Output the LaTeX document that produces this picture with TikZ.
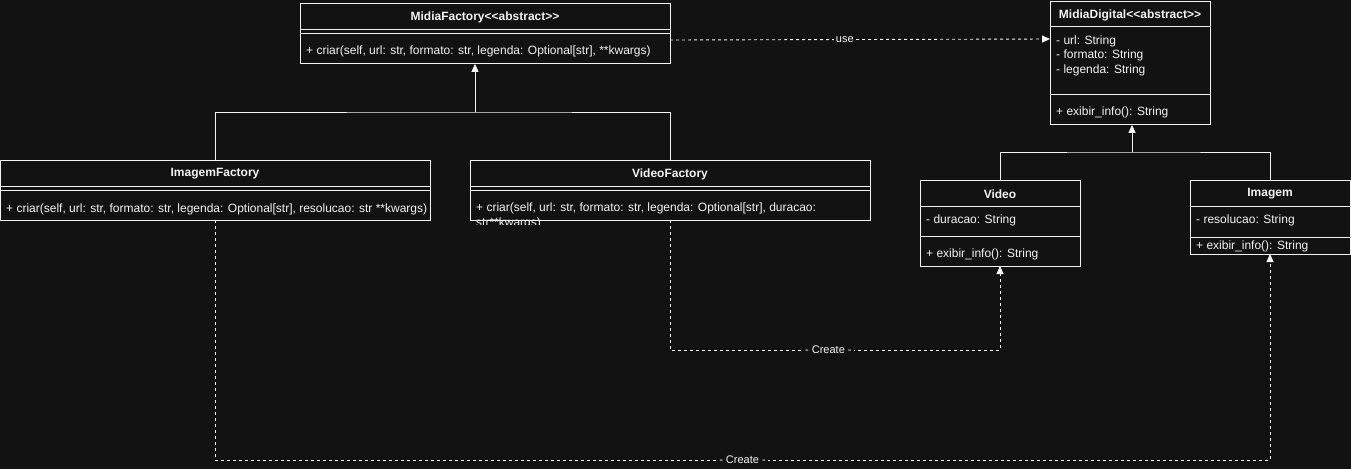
\documentclass[tikz,border=0pt]{standalone}
\usepackage{fontspec}
\setmainfont{Liberation Sans}
\usetikzlibrary{arrows.meta}
\definecolor{bg}{HTML}{121212}
\definecolor{fg}{HTML}{F4F4F4}
\newcommand{\lt}{<\kern0pt<}
\newcommand{\gt}{>\kern0pt>}
\tikzset{
  cls/.style={draw=fg, line width=0.9pt, fill=bg, anchor=north west, inner sep=0pt},
  ttl/.style={text=fg, font=\fontsize{12}{14}\selectfont\bfseries, inner sep=0pt},
  mem/.style={text=fg, font=\fontsize{12}{14}\selectfont, inner sep=0pt, anchor=west},
  sep/.style={draw=fg, line width=0.9pt},
  gen/.style={draw=fg, line width=0.9pt, -{Triangle[width=7pt,length=8pt]}},
  tree/.style={draw=fg, line width=0.9pt},
  dep/.style={draw=fg, line width=0.9pt, dash pattern=on 3pt off 3pt, -{Triangle[width=7pt,length=8pt]}},
  lbl/.style={text=fg, fill=bg, font=\fontsize{11}{12}\selectfont, inner xsep=2pt, inner ysep=1pt},
}
\begin{document}
\begin{tikzpicture}[x=1pt,y=-1pt]
\fill[bg] (0,0) rectangle (1351,469);
\useasboundingbox (0,0) rectangle (1351,469);

% MidiaFactory
\node[cls, minimum width=370pt, minimum height=60pt] (mf) at (300,3) {};
\draw[sep] (300,29) -- (670,29);
\draw[sep] (300,33) -- (670,33);
\node[ttl] (mft) at (485,17) {MidiaFactory\lt abstract\gt};
\node[mem] (mfm) at (306,51) {+ criar(self, url: str, formato: str, legenda: Optional[str], **kwargs)};

% MidiaDigital
\node[cls, minimum width=160pt, minimum height=123pt] (md) at (1050,1) {};
\draw[sep] (1050,26) -- (1210,26);
\draw[sep] (1050,94) -- (1210,94);
\node[ttl] (mdt) at (1130,15) {MidiaDigital\lt abstract\gt};
\node[mem] (mda1) at (1056,41) {- url: String};
\node[mem] (mda2) at (1056,55) {- formato: String};
\node[mem] (mda3) at (1056,70) {- legenda: String};
\node[mem] (mdm) at (1056,112) {+ exibir\_info(): String};

% ImagemFactory
\node[cls, minimum width=430pt, minimum height=60pt] (imf) at (0,160) {};
\draw[sep] (0,186) -- (430,186);
\draw[sep] (0,190) -- (430,190);
\node[ttl] (imft) at (215,174) {ImagemFactory};
\node[mem] (imfm) at (6,209) {+ criar(self, url: str, formato: str, legenda: Optional[str], resolucao: str **kwargs)};

% VideoFactory
\node[cls, minimum width=400pt, minimum height=60pt] (vf) at (470,160) {};
\draw[sep] (470,186) -- (870,186);
\draw[sep] (470,190) -- (870,190);
\node[ttl] (vft) at (670,174) {VideoFactory};
\node[mem] (vfm) at (476,208) {+ criar(self, url: str, formato: str, legenda: Optional[str], duracao:};
\begin{scope}
\clip (470,215) rectangle (870,224.5);
\node[mem] (vfm2) at (476,223) {str**kwargs)};
\end{scope}

% Video
\node[cls, minimum width=160pt, minimum height=86pt] (v) at (920,180) {};
\draw[sep] (920,206) -- (1080,206);
\draw[sep] (920,236) -- (1080,236);
\node[ttl] (vt) at (1000,194) {Video};
\node[mem] (va) at (926,220) {- duracao: String};
\node[mem] (vm) at (926,254) {+ exibir\_info(): String};

% Imagem
\node[cls, minimum width=160pt, minimum height=74pt] (im) at (1190,180) {};
\draw[sep] (1190,206) -- (1350,206);
\draw[sep] (1190,237) -- (1350,237);
\node[ttl] (imt) at (1270,194) {Imagem};
\node[mem] (ima) at (1196,220) {- resolucao: String};
\node[mem] (imm) at (1196,246) {+ exibir\_info(): String};

% generalization trees
\coordinate (j1) at (475,112);
\draw[tree] (imf.north) |- (j1) -| (vf.north);
\draw[gen] (j1) -- (mf.south -| j1);
\coordinate (j2) at (1132,152);
\coordinate (vtop) at (1000,180);
\coordinate (itop) at (1270,180);
\draw[tree] (vtop) |- (j2) -| (itop);
\draw[gen] (j2) -- (md.south -| j2);

% use
\coordinate (u1) at (670,40);
\coordinate (u2) at (1050,39);
\draw[dep] (u1) -- node[lbl, pos=0.46] {use} (u2);

% Create (VideoFactory -> Video)
\coordinate (c1) at (670,220);
\coordinate (c1b) at (670,350);
\coordinate (c1c) at (1000,350);
\coordinate (vbot) at (1000,266);
\draw[dep] (c1) -- (c1b) -- node[lbl, pos=0.48] {- Create -} (c1c) -- (vbot);

% Create (ImagemFactory -> Imagem)
\coordinate (c2) at (215,220);
\coordinate (c2b) at (215,460);
\coordinate (c2c) at (1270,460);
\coordinate (ibot) at (1270,254);
\draw[dep] (c2) -- (c2b) -- node[lbl, pos=0.5] {- Create -} (c2c) -- (ibot);
\end{tikzpicture}
\end{document}
